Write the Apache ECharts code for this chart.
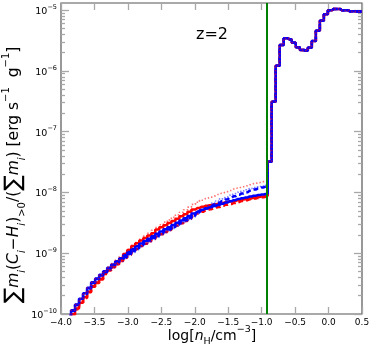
<!DOCTYPE html>
<html>
<head>
<meta charset="utf-8">
<script src="https://cdn.jsdelivr.net/npm/echarts@6/dist/echarts.min.js"></script>
<style>
  html, body { margin: 0; padding: 0; background: #fff; }
  #chart { width: 374px; height: 350px; }
</style>
</head>
<body>
<div id="chart"></div>
<script>
// bin centres of the density histogram, log[nH/cm^-3]
const binCenters = [
  -3.88, -3.82, -3.76, -3.70, -3.64, -3.58, -3.52, -3.46, -3.40, -3.34,
  -3.28, -3.22, -3.16, -3.10, -3.04, -2.98, -2.92, -2.86, -2.80, -2.74,
  -2.68, -2.62, -2.56, -2.50, -2.44, -2.38, -2.32, -2.26, -2.20, -2.14,
  -2.08, -2.02, -1.96, -1.90, -1.84, -1.78, -1.72, -1.66, -1.60, -1.54,
  -1.48, -1.42, -1.36, -1.30, -1.24, -1.18, -1.12, -1.06, -1.00, -0.94,
  -0.88, -0.82, -0.76, -0.70, -0.64, -0.58, -0.52, -0.46, -0.40, -0.34,
  -0.28, -0.22, -0.16, -0.10, -0.04, 0.02, 0.08, 0.14, 0.20, 0.26,
  0.32, 0.38, 0.44, 0.50
]

// below the threshold the six runs differ
const redSolidLow = [
  7.9e-11, 9.9e-11, 1.23e-10, 1.53e-10, 1.88e-10, 2.32e-10, 2.86e-10, 3.30e-10, 3.79e-10, 4.80e-10,
  5.50e-10, 6.21e-10, 6.99e-10, 7.89e-10, 9.71e-10, 1.13e-9, 1.31e-9, 1.46e-9, 1.62e-9, 1.78e-9,
  1.95e-9, 2.14e-9, 2.45e-9, 2.67e-9, 2.90e-9, 3.14e-9, 3.40e-9, 3.71e-9, 4.05e-9, 4.40e-9,
  4.80e-9, 5.23e-9, 5.53e-9, 5.81e-9, 6.02e-9, 6.17e-9, 6.33e-9, 6.50e-9, 6.74e-9, 6.91e-9,
  7.09e-9, 7.25e-9, 7.47e-9, 7.65e-9, 7.72e-9, 7.99e-9, 8.24e-9, 8.43e-9, 8.62e-9, 8.79e-9
]
const blueSolidLow = [
  9.2e-11, 1.15e-10, 1.43e-10, 1.78e-10, 2.19e-10, 2.70e-10, 3.33e-10, 3.84e-10, 4.41e-10, 5.05e-10,
  5.79e-10, 6.54e-10, 7.36e-10, 8.30e-10, 9.34e-10, 1.05e-9, 1.17e-9, 1.30e-9, 1.45e-9, 1.59e-9,
  1.74e-9, 1.91e-9, 2.09e-9, 2.28e-9, 2.48e-9, 2.68e-9, 2.91e-9, 3.17e-9, 3.46e-9, 3.76e-9,
  4.10e-9, 4.51e-9, 4.85e-9, 5.19e-9, 5.47e-9, 5.71e-9, 5.97e-9, 6.25e-9, 6.54e-9, 6.84e-9,
  7.16e-9, 7.47e-9, 7.78e-9, 8.05e-9, 8.30e-9, 8.59e-9, 8.86e-9, 9.06e-9, 9.27e-9, 9.45e-9
]
const redDashedLow = [
  7.7e-11, 9.7e-11, 1.20e-10, 1.50e-10, 1.84e-10, 2.27e-10, 2.80e-10, 3.23e-10, 3.70e-10, 4.55e-10,
  5.21e-10, 5.89e-10, 6.62e-10, 7.47e-10, 8.41e-10, 9.45e-10, 1.05e-9, 1.17e-9, 1.31e-9, 1.43e-9,
  1.57e-9, 1.72e-9, 1.88e-9, 2.05e-9, 2.23e-9, 2.41e-9, 2.62e-9, 2.85e-9, 3.11e-9, 3.38e-9,
  3.69e-9, 4.06e-9, 4.51e-9, 4.83e-9, 5.09e-9, 5.31e-9, 5.49e-9, 5.75e-9, 6.02e-9, 6.29e-9,
  6.44e-9, 6.72e-9, 7.00e-9, 7.25e-9, 7.47e-9, 7.73e-9, 7.97e-9, 8.15e-9, 8.34e-9, 8.51e-9
]
const blueDashedLow = [
  9.0e-11, 1.12e-10, 1.40e-10, 1.74e-10, 2.14e-10, 2.64e-10, 3.25e-10, 3.75e-10, 4.30e-10, 4.93e-10,
  5.65e-10, 6.38e-10, 7.18e-10, 8.10e-10, 8.69e-10, 9.77e-10, 1.09e-9, 1.21e-9, 1.35e-9, 1.48e-9,
  1.62e-9, 1.78e-9, 1.94e-9, 2.12e-9, 2.31e-9, 2.49e-9, 2.71e-9, 2.95e-9, 3.22e-9, 3.50e-9,
  3.81e-9, 4.19e-9, 4.66e-9, 5.09e-9, 5.47e-9, 5.88e-9, 6.33e-9, 6.75e-9, 7.19e-9, 7.66e-9,
  8.16e-9, 8.67e-9, 9.18e-9, 9.66e-9, 1.01e-8, 1.07e-8, 1.12e-8, 1.16e-8, 1.21e-8, 1.25e-8
]
const redDottedLow = [
  9.2e-11, 1.15e-10, 1.43e-10, 1.78e-10, 2.19e-10, 2.70e-10, 3.33e-10, 3.84e-10, 4.41e-10, 5.05e-10,
  5.91e-10, 6.74e-10, 7.73e-10, 8.80e-10, 1.01e-9, 1.16e-9, 1.31e-9, 1.50e-9, 1.70e-9, 1.91e-9,
  2.12e-9, 2.39e-9, 2.65e-9, 2.94e-9, 3.25e-9, 3.54e-9, 3.90e-9, 4.28e-9, 4.74e-9, 5.19e-9,
  5.74e-9, 6.36e-9, 6.89e-9, 7.47e-9, 7.93e-9, 8.34e-9, 8.78e-9, 9.25e-9, 9.74e-9, 1.03e-8,
  1.08e-8, 1.14e-8, 1.19e-8, 1.24e-8, 1.29e-8, 1.34e-8, 1.40e-8, 1.45e-8, 1.51e-8, 1.57e-8
]
const blueDottedLow = [
  9.2e-11, 1.15e-10, 1.43e-10, 1.78e-10, 2.19e-10, 2.70e-10, 3.33e-10, 3.84e-10, 4.28e-10, 4.75e-10,
  5.27e-10, 5.76e-10, 6.48e-10, 7.30e-10, 8.22e-10, 9.24e-10, 1.03e-9, 1.14e-9, 1.28e-9, 1.40e-9,
  1.53e-9, 1.68e-9, 1.84e-9, 2.01e-9, 2.18e-9, 2.36e-9, 2.56e-9, 2.79e-9, 3.04e-9, 3.31e-9,
  3.61e-9, 3.97e-9, 4.46e-9, 5.03e-9, 5.58e-9, 6.11e-9, 6.69e-9, 7.25e-9, 7.85e-9, 8.41e-9,
  9.02e-9, 9.56e-9, 1.01e-8, 1.06e-8, 1.11e-8, 1.16e-8, 1.20e-8, 1.24e-8, 1.28e-8, 1.32e-8
]
// above the threshold all runs coincide
const denseTail = [
  3.2e-8, 3.1e-7, 1.22e-6, 2.67e-6, 3.44e-6, 3.30e-6, 2.92e-6, 2.45e-6, 2.21e-6, 2.15e-6,
  2.41e-6, 3.11e-6, 4.60e-6, 6.70e-6, 8.56e-6, 1.00e-5, 1.05e-5, 1.05e-5, 1.00e-5, 1.00e-5,
  9.6e-6, 9.6e-6, 9.5e-6, 9.5e-6
]
const thresholdDensity = -0.928

const xTicks = [-4.0, -3.5, -3.0, -2.5, -2.0, -1.5, -1.0, -0.5, 0.0, 0.5]
const yMajor = [1e-10, 1e-9, 1e-8, 1e-7, 1e-6, 1e-5]
const yMin = 1e-10
const yMax = 1.314e-5

const FONT = 'DejaVu Sans'
const yMinor = []
yMajor.forEach(d => {
  for (let k = 2; k <= 9; k++) {
    const v = k * d
    if (v < yMax) yMinor.push(v)
  }
})

const toPairs = low => binCenters.map((x, i) => [x, low.concat(denseTail)[i]])

const lineSeries = (name, low, color, width, type, opacity) => ({
  name,
  type: 'line',
  step: 'middle',
  data: toPairs(low),
  showSymbol: false,
  animation: false,
  lineStyle: { color, width, type, opacity },
  xAxisIndex: 0,
  yAxisIndex: 0,
})

const tickStyle = { color: '#a8a8a8', width: 1.3 }
const minus = s => String(s).replace('-', '\u2212')

const valueAxisX = extra => Object.assign({
  gridIndex: 0,
  type: 'value',
  min: -4.0,
  max: 0.5,
  interval: 0.5,
  axisLine: { show: false, onZero: false },
  splitLine: { show: false },
  axisTick: { inside: true, length: 7, lineStyle: tickStyle },
}, extra)

const logAxisY = extra => Object.assign({
  type: 'log',
  logBase: 10,
  min: yMin,
  max: yMax,
  axisLine: { show: false, onZero: false },
  splitLine: { show: false },
  axisLabel: { show: false },
}, extra)

const chart = echarts.init(document.getElementById('chart'), null, { renderer: 'canvas' })

const option = {
  animation: false,
  backgroundColor: '#fff',
  grid: [
    { left: 61, right: 12, top: 3, bottom: 36, show: true, borderColor: '#555', borderWidth: 1.2, backgroundColor: 'transparent' },
    { left: 61, right: 12, top: 3, bottom: 36, show: false },
  ],
  xAxis: [
    valueAxisX({
      position: 'bottom',
      axisLabel: {
        margin: 4,
        fontFamily: FONT,
        fontSize: 9,
        color: '#000',
        customValues: xTicks,
        formatter: v => minus(v.toFixed(1)),
      },
    }),
    valueAxisX({ position: 'top', axisLabel: { show: false } }),
    { gridIndex: 1, type: 'value', min: -4.0, max: 0.5, show: false, axisLine: { onZero: false } },
  ],
  yAxis: [
    logAxisY({
      gridIndex: 0,
      position: 'left',
      axisTick: { inside: true, length: 8, lineStyle: tickStyle, customValues: yMajor },
      axisLabel: {
        show: true,
        margin: 4,
        customValues: yMajor,
        color: '#000',
        formatter: v => {
          const e = Math.round(Math.log10(v))
          if (Math.abs(Math.log10(v) - e) > 1e-6) return ''
          return '{b|10}{s|' + minus(e) + '}'
        },
        rich: {
          b: { fontFamily: FONT, fontSize: 9.5, lineHeight: 13, verticalAlign: 'bottom', color: '#000' },
          s: { fontFamily: FONT, fontSize: 6.5, lineHeight: 8, verticalAlign: 'top', color: '#000' },
        },
      },
    }),
    logAxisY({
      gridIndex: 0,
      position: 'right',
      axisTick: { inside: true, length: 8, lineStyle: tickStyle, customValues: yMajor },
    }),
    logAxisY({
      gridIndex: 1,
      position: 'left',
      axisTick: { inside: true, length: 4, lineStyle: tickStyle, customValues: yMinor },
    }),
    logAxisY({
      gridIndex: 1,
      position: 'right',
      axisTick: { inside: true, length: 4, lineStyle: tickStyle, customValues: yMinor },
    }),
  ],
  series: [
    lineSeries('red solid', redSolidLow, '#ff0000', 2.5, 'solid', 1),
    lineSeries('red dashed', redDashedLow, '#ff0000', 2.5, [5, 3], 1),
    lineSeries('blue solid', blueSolidLow, '#0000ff', 2.5, 'solid', 1),
    lineSeries('blue dashed', blueDashedLow, '#0000ff', 2.5, [5, 3], 1),
    lineSeries('blue dotted', blueDottedLow, '#0000ff', 1.6, [1.5, 1.5], 0.5),
    Object.assign(lineSeries('red dotted', redDottedLow, '#ff0000', 1.6, [1.5, 2], 0.55), {
      markLine: {
        silent: true,
        symbol: ['none', 'none'],
        label: { show: false },
        lineStyle: { color: '#008000', width: 2, type: 'solid', opacity: 1 },
        data: [{ xAxis: thresholdDensity }],
      },
    }),
  ],
  graphic: [
    {
      type: 'text',
      x: 212,
      y: 35,
      style: { text: 'z=2', fontFamily: FONT, fontSize: 16, fill: '#000', align: 'center', verticalAlign: 'middle' },
    },
    {
      type: 'text',
      x: 212,
      y: 336,
      style: {
        text: '{rm|log[}{it|n}{sub|H}{rm|/cm}{sup|\u22123}{rm|]}',
        align: 'center',
        verticalAlign: 'middle',
        rich: {
          rm: { fontFamily: FONT, fontSize: 14, lineHeight: 22, verticalAlign: 'middle', fill: '#000' },
          it: { fontFamily: FONT, fontSize: 14, fontStyle: 'italic', lineHeight: 22, verticalAlign: 'middle', fill: '#000' },
          sub: { fontFamily: FONT, fontSize: 9.5, lineHeight: 12, verticalAlign: 'bottom', fill: '#000' },
          sup: { fontFamily: FONT, fontSize: 9.5, lineHeight: 12, verticalAlign: 'top', fill: '#000' },
        },
      },
    },
    {
      type: 'text',
      x: 14,
      y: 175,
      rotation: Math.PI / 2,
      style: {
        text: '{sum|\u2211}{it|m}{sub|i}{rm|(}{it|C}{sub|i}{rm|\u2212}{it|H}{sub|i}{rm|)}{subrm|>0}{rm|/(}{sum|\u2211}{it|m}{sub|i}{rm|) [erg s}{sup|\u22121}{rm|  g}{sup|\u22121}{rm|]}',
        align: 'center',
        verticalAlign: 'middle',
        rich: {
          sum: { fontFamily: FONT, fontSize: 23, lineHeight: 26, verticalAlign: 'middle', fill: '#000' },
          rm: { fontFamily: FONT, fontSize: 15.5, lineHeight: 26, verticalAlign: 'middle', fill: '#000' },
          it: { fontFamily: FONT, fontSize: 15.5, fontStyle: 'italic', lineHeight: 26, verticalAlign: 'middle', fill: '#000' },
          sub: { fontFamily: FONT, fontSize: 10, fontStyle: 'italic', lineHeight: 14, verticalAlign: 'bottom', fill: '#000' },
          subrm: { fontFamily: FONT, fontSize: 10, lineHeight: 14, verticalAlign: 'bottom', fill: '#000' },
          sup: { fontFamily: FONT, fontSize: 10, lineHeight: 14, verticalAlign: 'top', fill: '#000' },
        },
      },
    },
  ],
}

chart.setOption(option)
</script>
</body>
</html>
